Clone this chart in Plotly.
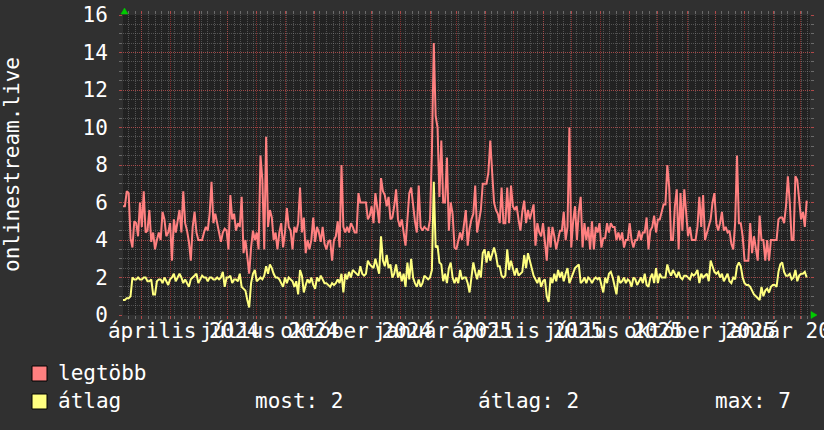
import pandas as pd
import plotly.graph_objects as go

# ---------------- data ----------------
start_date = "2024-03-12"
step = "2D"

legtobb = [
    5.8, 5.8, 6.6, 6.5, 4.1, 3.6, 5.0, 4.9, 4.2, 6.0,
    4.7, 6.6, 4.4, 4.5, 5.6, 3.9, 4.4, 3.5, 4.0, 4.4,
    4.0, 5.5, 5.1, 4.2, 4.4, 4.9, 2.9, 5.1, 4.4, 4.9,
    5.6, 4.4, 6.6, 4.9, 4.5, 3.9, 2.9, 4.7, 5.5, 4.4,
    4.0, 4.0, 4.0, 4.4, 4.7, 4.5, 5.4, 7.1, 4.9, 5.4,
    4.9, 4.4, 3.9, 4.4, 4.6, 4.5, 3.5, 6.4, 5.1, 5.4,
    4.5, 4.9, 4.7, 6.3, 3.3, 4.0, 2.9, 2.2, 3.6, 4.5,
    4.0, 4.4, 3.5, 8.5, 7.2, 3.5, 9.5, 4.7, 5.6, 5.2,
    4.0, 4.4, 3.5, 4.4, 4.9, 3.6, 4.4, 5.7, 4.7, 4.5,
    3.5, 4.7, 4.4, 4.9, 6.8, 4.4, 5.2, 3.3, 4.0, 3.5,
    4.0, 5.2, 3.9, 4.7, 4.4, 3.9, 4.7, 3.8, 3.5, 3.9,
    4.0, 2.9, 4.0, 4.2, 5.0, 3.6, 8.0, 4.7, 4.4, 4.7,
    4.4, 4.9, 4.7, 4.4, 4.4, 6.5, 6.0, 6.0, 6.0, 6.0,
    5.1, 5.3, 5.8, 4.9, 6.5, 5.8, 4.9, 7.3, 6.6, 6.4,
    5.8, 6.3, 5.1, 5.2, 5.8, 6.7, 5.1, 4.7, 5.1, 4.4,
    3.7, 5.1, 6.5, 6.8, 5.8, 5.0, 4.4, 6.9, 4.7, 4.5,
    4.7, 4.6, 4.5, 5.1, 8.6, 14.5, 10.6, 10.0, 6.3, 9.3,
    6.0, 6.0, 8.4, 4.5, 6.0, 5.4, 3.6, 3.5, 4.0, 4.4,
    4.0, 4.9,
    5.6, 3.7, 4.6, 5.1, 5.4, 6.9, 4.4, 5.0,
    5.6, 7.0, 7.0, 7.0, 7.6, 9.3, 7.6, 6.0, 5.6, 5.4,
    4.9, 6.8, 4.9, 4.9, 6.8, 4.9, 6.9, 5.8, 5.6, 5.8,
    5.1, 4.5, 5.5, 6.1, 4.9, 5.6, 5.1, 5.5, 5.9, 3.7,
    4.9, 4.4, 4.2, 4.9, 3.8, 2.9, 4.7, 3.6, 4.7, 4.2,
    3.5, 4.0, 4.5, 4.5, 5.5, 4.0, 4.7, 10.0, 3.6, 5.0,
    5.8, 4.0, 5.5, 6.3, 3.6, 4.9, 4.0, 4.7, 3.5, 5.0,
    3.5, 4.7, 4.4, 4.9, 3.6, 4.1, 4.1, 4.9, 4.4, 4.9,
    4.7, 4.7, 4.0, 4.4, 4.0, 4.4, 3.6, 4.0, 4.0, 4.9,
    4.0, 3.6, 4.0, 4.0, 4.5, 4.0, 4.4, 4.4, 5.2, 3.5,
    4.5, 4.7, 5.3, 4.4, 5.1, 5.1, 5.5, 5.9, 5.9, 8.0,
    6.8, 4.0, 4.0, 5.8, 6.7, 3.5, 6.5, 4.5, 6.7, 5.6,
    4.2, 4.7, 4.0, 4.0, 4.0, 4.7, 6.3, 4.7, 6.4, 4.0,
    4.4, 4.7, 5.1, 6.0, 6.5, 4.9, 4.5, 4.9, 5.5, 4.5,
    4.7, 4.4, 4.5, 3.8, 3.5, 4.9, 8.5, 4.9, 4.9, 4.2,
    2.9, 2.9, 2.9, 4.9, 3.3, 4.2, 3.5, 2.9, 5.3, 4.0,
    4.0, 2.9, 4.0, 2.9, 4.0, 4.0, 4.0, 4.0, 5.1, 5.2,
    5.2, 4.9, 5.8, 7.4, 6.0, 4.0, 4.0, 7.4, 7.2, 6.0,
    5.1, 5.5, 4.7, 6.1,
]

atlag = [
    0.8, 0.8, 0.9, 0.9, 1.0, 2.0, 1.9, 1.9, 2.0, 1.9,
    1.9, 2.0, 2.0, 1.8, 1.8, 1.9, 1.1, 1.1, 1.8, 1.9,
    1.9, 1.7, 2.0, 1.8, 1.6, 1.9, 2.0, 2.2, 1.8, 2.0,
    2.2, 2.0, 1.7, 1.9, 1.7, 1.5, 1.9, 2.0, 2.1, 2.2,
    1.7, 1.9, 2.1, 2.0, 2.0, 1.8, 2.0, 2.0, 1.9, 1.9,
    2.0, 1.9, 2.0, 2.3, 1.5, 2.0, 2.0, 2.1, 1.7, 1.9,
    1.9, 1.8, 2.2, 1.5, 1.4, 1.3, 0.8, 0.4, 1.7, 2.2,
    2.4, 1.8, 1.9, 2.0, 1.9, 2.1, 2.6, 2.2, 2.7, 2.5,
    2.2, 2.0, 2.0, 1.9, 1.7, 1.5, 2.0, 1.7, 2.0, 1.9,
    1.8, 1.5, 1.8, 1.1, 2.4, 2.1, 1.2, 1.6, 1.9, 1.7,
    2.0, 1.6, 1.4, 2.0, 1.8, 2.1, 1.9, 1.7, 1.7, 1.6,
    1.5, 1.7, 1.6, 1.7, 1.9, 1.7, 2.2, 1.2, 2.2, 1.9,
    2.3, 2.0, 2.4, 2.3, 2.2, 2.1, 2.6, 2.2, 2.1, 2.2,
    2.9, 2.7, 2.6, 2.5, 3.0, 2.5, 2.2, 4.2, 2.9, 2.6,
    3.2, 2.5, 2.7, 2.0, 2.2, 2.7, 2.0, 2.3, 1.8, 2.2,
    1.5, 2.8, 1.9, 3.0, 2.0, 1.7, 1.5, 1.9, 1.5, 1.7,
    2.1, 2.0, 1.9, 2.0, 2.4, 7.1, 3.6, 3.7, 2.8, 2.7,
    1.8, 2.2, 1.7, 2.5, 2.8, 2.0, 1.7, 2.0, 1.7, 2.4,
    1.9, 2.0,
    2.0, 1.7, 1.2, 2.0, 2.8, 2.3, 1.9, 2.4,
    2.0, 3.3, 3.5, 2.8, 3.4, 2.9, 3.2, 3.6, 3.2, 2.6,
    2.6, 2.1, 2.0, 2.1, 3.5, 2.4, 2.9, 2.5, 2.1, 2.5,
    2.1, 2.2, 2.3, 3.2, 2.5, 3.3, 2.9, 2.4, 2.1, 1.9,
    1.7, 2.0, 1.5, 1.8, 1.9, 1.0, 0.7, 2.0, 1.7, 2.2,
    1.8, 2.4, 2.0, 2.3, 1.8, 2.2, 2.5, 1.7, 2.0, 2.2,
    2.5, 2.6, 2.7, 1.7, 1.8, 2.0, 1.7, 2.0, 1.9, 1.7,
    1.9, 2.0, 1.9, 2.0, 1.5, 1.2, 2.0, 1.7, 2.2, 2.3,
    2.0, 1.5, 1.1, 2.1, 1.7, 1.8, 2.0, 1.7, 1.9, 1.8,
    1.5, 2.0, 1.9, 1.6, 1.8, 2.0, 1.7, 2.2, 1.6, 1.5,
    2.0, 2.2, 1.7, 2.5, 1.7, 2.2, 2.0, 2.0, 2.0, 2.7,
    2.3, 2.1, 2.4, 2.2, 2.0, 2.3, 2.0, 1.9, 2.1, 2.1,
    2.0, 1.9, 2.2, 2.1, 2.2, 2.4, 1.7, 2.2, 2.0, 2.1,
    2.2, 1.8, 2.9, 2.6, 2.3, 2.2, 2.3, 2.0, 2.2, 1.8,
    2.0, 2.2, 1.8, 1.7, 2.0, 1.9, 2.6, 2.8, 2.6, 2.0,
    1.7, 1.6, 1.6, 1.5, 1.3, 1.1, 1.0, 0.9, 0.8, 1.5,
    1.0, 1.3, 1.4, 1.2, 1.5, 1.6, 1.6, 1.5, 2.3, 2.7,
    2.8, 2.3, 2.1, 2.1, 2.2, 1.9, 2.0, 2.4, 1.8, 2.1,
    2.2, 2.2, 2.3, 2.0,
]

x_range = ["2024-03-12", "2026-03-11 12:00"]
month_ticks = pd.date_range("2024-04-01", "2026-03-01", freq="MS")
month_names = {1: "január", 4: "április", 7: "július", 10: "október"}
tick_text = [f"{month_names[d.month]} {d.year}" if d.month in month_names else "" for d in month_ticks]

y_ticks = [0, 2, 4, 6, 8, 10, 12, 14, 16]

dates = pd.date_range(start_date, periods=len(legtobb), freq=step)

# ---------------- figure ----------------
W, H = 824, 430
L, R, T, B = 123, 14, 15, 115
PW, PH = W - L - R, H - T - B

def px(xp):
    return (xp - L) / PW

def py(yp):
    return (T + PH - yp) / PH

FONT = "DejaVu Sans Mono"
RED = "#ff8080"
YEL = "#ffff80"
MAJOR_GRID = "rgba(255,60,60,0.45)"
MINOR_GRID = "rgba(150,150,150,0.42)"

fig = go.Figure()
fig.add_trace(go.Scatter(x=dates, y=legtobb, mode="lines", name="legtöbb",
                         line=dict(color=RED, width=2)))
fig.add_trace(go.Scatter(x=dates, y=atlag, mode="lines", name="átlag",
                         line=dict(color=YEL, width=2)))

fig.update_xaxes(
    type="date", range=x_range,
    tickmode="array", tickvals=month_ticks, ticktext=tick_text,
    tickangle=0, ticklabelshift=42, ticklabelstandoff=-6,
    ticklabeloverflow="allow",
    showgrid=True, gridcolor=MAJOR_GRID, griddash="1px,1px", gridwidth=1,
    ticks="outside", ticklen=3, tickcolor="#b04848", tickwidth=1,
    mirror="ticks", showline=False, zeroline=False,
    tickfont=dict(family=FONT, size=21, color="#ffffff"),
    minor=dict(dtick=7 * 86400000, tick0="2024-03-11", showgrid=True,
               gridcolor=MINOR_GRID, griddash="1px,1px", gridwidth=1,
               ticks="outside", ticklen=3, tickcolor="#6a6a6a"),
    fixedrange=True,
)
fig.update_yaxes(
    range=[0, 16], tickmode="array", tickvals=y_ticks,
    showgrid=True, gridcolor=MAJOR_GRID, griddash="1px,1px", gridwidth=1,
    ticks="outside", ticklen=3, tickcolor="#b04848", tickwidth=1,
    mirror="ticks", showline=False, zeroline=False,
    ticklabelstandoff=7,
    tickfont=dict(family=FONT, size=21, color="#ffffff"),
    minor=dict(dtick=0.5, showgrid=True, gridcolor=MINOR_GRID,
               griddash="1px,1px", gridwidth=1,
               ticks="outside", ticklen=3, tickcolor="#6a6a6a"),
    fixedrange=True,
)

most = atlag[-1]
mean = sum(atlag) / len(atlag)
mx = max(atlag)

annotations = [
    dict(text="onlinestream.live", textangle=-90, x=px(12), y=py(165),
         xanchor="center", yanchor="middle"),
    dict(text="legtöbb", x=px(56), y=py(373), xanchor="left", yanchor="middle"),
    dict(text="átlag", x=px(56), y=py(401), xanchor="left", yanchor="middle"),
    dict(text=f"most: {most:.0f}", x=px(253), y=py(401), xanchor="left", yanchor="middle"),
    dict(text=f"átlag: {mean:.0f}", x=px(476), y=py(401), xanchor="left", yanchor="middle"),
    dict(text=f"max: {mx:.0f}", x=px(713), y=py(401), xanchor="left", yanchor="middle"),
]
for a in annotations:
    a.update(xref="paper", yref="paper", showarrow=False,
             font=dict(family=FONT, size=21, color="#ffffff"))

def rect(x0, y0, x1, y1, color):
    return dict(type="rect", xref="paper", yref="paper",
                x0=px(x0), x1=px(x1), y0=py(y0), y1=py(y1),
                fillcolor=color, line=dict(color="#000000", width=1), layer="above")

def tri(points, color):
    path = "M " + " L ".join(f"{px(a):.5f},{py(b):.5f}" for a, b in points) + " Z"
    return dict(type="path", xref="paper", yref="paper", path=path,
                fillcolor=color, line=dict(color=color, width=0.5), layer="above")

shapes = [
    rect(32, 366, 47, 381, RED),
    rect(32, 394, 47, 409, YEL),
    tri([(121, 14), (128, 14), (124.5, 8)], "#00cc00"),
    tri([(811, 311.5), (811, 318.5), (817, 315)], "#00cc00"),
]

fig.update_layout(
    width=W, height=H,
    margin=dict(l=L, r=R, t=T, b=B, autoexpand=False),
    paper_bgcolor="#303030", plot_bgcolor="#222222",
    font=dict(family=FONT, size=21, color="#ffffff"),
    showlegend=False,
    annotations=annotations, shapes=shapes,
)

fig.write_html(
    "out.html",
    config={"displayModeBar": False, "staticPlot": True},
    post_script="document.body.style.margin='0';document.body.style.background='#303030';",
)
